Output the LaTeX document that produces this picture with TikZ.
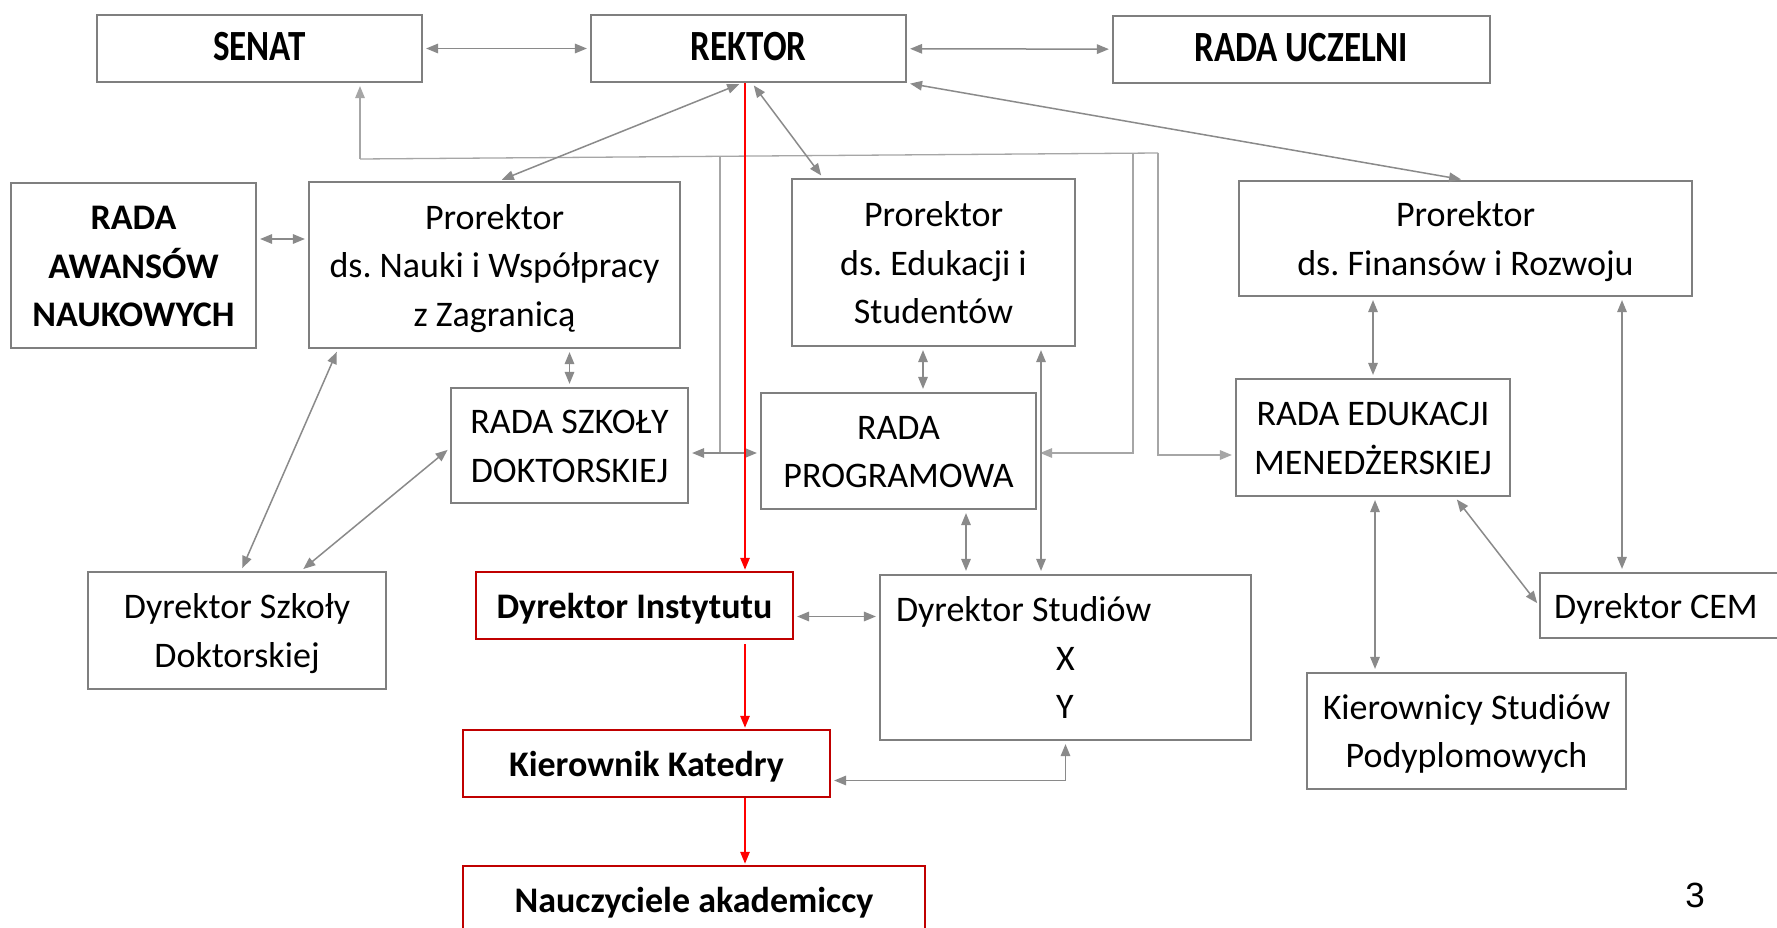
\documentclass[tikz,border=0pt]{standalone}
\usepackage{fontspec}
\usepackage{graphicx}
\setmainfont{Carlito}
\newfontfamily\numfont{Liberation Sans}
\usetikzlibrary{arrows.meta,calc}
\definecolor{boxgray}{HTML}{7F7F7F}
\definecolor{lngray}{HTML}{8A8A8A}
\definecolor{busgray}{HTML}{A6A6A6}
\definecolor{boxred}{HTML}{C00000}
\definecolor{arrred}{HTML}{FF0000}
\newcommand{\topst}{\rule{0pt}{32pt}}
\newcommand{\botst}{\rule[-7pt]{0pt}{7pt}}
\frenchspacing
\begin{document}
\begin{tikzpicture}[x=1pt,y=-1pt,
  box/.style={draw=boxgray, line width=2.2pt, inner sep=0pt, align=center, font=\fontsize{36}{48.5}\selectfont,
    execute at end node={\botst}},
  bbox/.style={box, font=\fontsize{36}{48.5}\selectfont\bfseries},
  topbox/.style={box, font=\fontsize{35}{42}\selectfont\bfseries},
  redbox/.style={box, draw=boxred, font=\fontsize{36}{48.5}\selectfont\bfseries},
  conn/.style={draw=lngray, line width=1.5pt, {Triangle[length=12pt,width=9.5pt]}-{Triangle[length=12pt,width=9.5pt]}, shorten <=3pt, shorten >=3pt},
  conn1/.style={draw=lngray, line width=1.5pt, -{Triangle[length=12pt,width=9.5pt]}, shorten >=3pt},
  bus/.style={draw=busgray, line width=1.3pt},
  redarr/.style={draw=arrred, line width=2.5pt, -{Triangle[length=12pt,width=9pt]}, shorten >=1pt},
]
\useasboundingbox (0,0) rectangle (1777,928);
\clip (0,0) rectangle (1777,928);
\fill[white] (0,0) rectangle (1777,928);

% top row
\node[topbox, minimum width=325pt, minimum height=67pt] (senat) at (259.5,48.5) {\topst\scalebox{1}[1.23]{SENAT}};
\node[topbox, minimum width=315pt, minimum height=67pt] (rektor) at (748.5,48.5) {\topst\scalebox{1}[1.23]{REKTOR}};
\node[topbox, minimum width=377pt, minimum height=67pt] (uczelni) at (1301.5,49.5) {\topst\scalebox{1}[1.23]{RADA UCZELNI}};

% second row
\node[bbox, minimum width=245pt, minimum height=165pt] (awans) at (133.5,265.5) {\topst RADA\\AWANSÓW\\NAUKOWYCH};
\node[box, minimum width=371pt, minimum height=166pt] (pnauki) at (494.5,265) {\topst Prorektor\\ds. Nauki i Współpracy\\z Zagranicą};
\node[box, minimum width=283pt, minimum height=167pt] (pedu) at (933.5,262.5) {\topst Prorektor\\ds. Edukacji i\\Studentów};
\node[box, minimum width=453pt, minimum height=115pt] (pfin) at (1465.5,238.5) {\topst Prorektor\\ds. Finansów i Rozwoju};

% third row
\node[box, minimum width=237pt, minimum height=115pt] (rsd) at (569.5,445.5) {\topst RADA SZKOŁY\\DOKTORSKIEJ};
\node[box, minimum width=275pt, minimum height=116pt] (rprog) at (898.5,451) {\topst RADA\\PROGRAMOWA};
\node[box, minimum width=274pt, minimum height=117pt] (redu) at (1373,437.5) {\topst RADA EDUKACJI\\MENEDŻERSKIEJ};

% fourth row
\node[box, minimum width=298pt, minimum height=117pt] (dsd) at (237,630.5) {\topst Dyrektor Szkoły\\Doktorskiej};
\node[redbox, minimum width=317pt, minimum height=67pt] (dinst) at (634.5,605.5) {\topst Dyrektor Instytutu};
\node[box, text width=339pt, inner xsep=16pt, align=flush left, minimum height=165pt] (dstud) at (1065.5,657.5) {\topst Dyrektor Studiów\\\hspace*{160pt}X\\\hspace*{160pt}Y};
\node[box, text width=233pt, inner xsep=14pt, align=flush left, minimum height=65pt, anchor=west] (dcem) at (1539,605.5) {\topst Dyrektor CEM};
\node[box, minimum width=319pt, minimum height=116pt] (kier) at (1466.5,731) {\topst Kierownicy Studiów\\Podyplomowych};

% red chain
\node[redbox, minimum width=367pt, minimum height=67pt] (kkat) at (646.5,763.5) {\topst Kierownik Katedry};
\node[redbox, minimum width=462pt, minimum height=67pt] (naucz) at (694,899.5) {\topst Nauczyciele akademiccy};

\node[font=\numfont\fontsize{35}{40}\selectfont, inner sep=0pt] (pg) at (1695,895) {3};

% top connectors
\draw[conn] (senat) -- (rektor);
\draw[conn] (rektor) -- (uczelni);

% bus
\coordinate (b1) at (360,159);
\coordinate (b2) at (720,156.3);
\coordinate (b3) at (1133,153.2);
\coordinate (b4) at (1158,153);
\coordinate (rs) at ([yshift=-7.5pt]rsd.east);
\draw[bus] (b1) -- (b4);
\draw[conn1, draw=busgray] (b1) -- (b1 |- senat.south);
\draw[bus] (b2) -- (b2 |- rs);
\draw[conn] (rs) -- (rs -| rprog.west);
\draw[conn1, draw=busgray] (b3) |- ([yshift=-2pt]rprog.east);
\draw[conn1, draw=busgray] (b4) |- ([yshift=-17.5pt]redu.west);

% rektor connectors
\draw[conn] ([xshift=-6.5pt]rektor.south) -- ([xshift=4.5pt]pnauki.north);
\draw[conn] ([xshift=3.5pt]rektor.south) -- ([xshift=-110.5pt]pedu.north);
\draw[conn] (rektor.south east) -- ([xshift=-1.5pt]pfin.north);

% red chain
\coordinate (rc) at ([xshift=-3.5pt]rektor.south);
\draw[redarr] (rc) -- (rc |- dinst.north);
\draw[redarr, shorten <=4pt] (rc |- dinst.south) -- (rc |- kkat.north);
\draw[redarr] (rc |- kkat.south) -- (rc |- naucz.north);

% left part
\draw[conn] ([yshift=26.5pt]awans.east) -- ([yshift=26pt]pnauki.west);
\draw[conn] (rsd.north) -- (rsd.north |- pnauki.south);
\draw[conn] ([xshift=4pt]dsd.north) -- ([xshift=-156.5pt]pnauki.south);
\draw[conn] ([xshift=64pt]dsd.north) -- ([yshift=-2.5pt]rsd.west);

% middle part
\coordinate (pe1) at ([xshift=-10.5pt]pedu.south);
\coordinate (pe2) at ([xshift=107.5pt]pedu.south);
\coordinate (rp1) at ([xshift=67.5pt]rprog.south);
\coordinate (di1) at ([yshift=-11pt]dinst.east);
\coordinate (kk1) at ([yshift=-17pt]kkat.east);
\draw[conn] (pe1) -- (pe1 |- rprog.north);
\draw[conn] (pe2) -- (pe2 |- dstud.north);
\draw[conn] (rp1) -- (rp1 |- dstud.north);
\draw[conn] (di1) -- (di1 -| dstud.west);
\draw[conn] (kk1) -| (dstud.south);

% right part
\coordinate (pf1) at ([xshift=156.5pt]pfin.south);
\coordinate (re1) at ([xshift=2pt]redu.south);
\draw[conn] (redu.north) -- (redu.north |- pfin.south);
\draw[conn] (pf1) -- (pf1 |- dcem.north);
\draw[conn] ([xshift=82pt]redu.south) -- (dcem.west);
\draw[conn] (re1) -- (re1 |- kier.north);
\end{tikzpicture}
\end{document}
